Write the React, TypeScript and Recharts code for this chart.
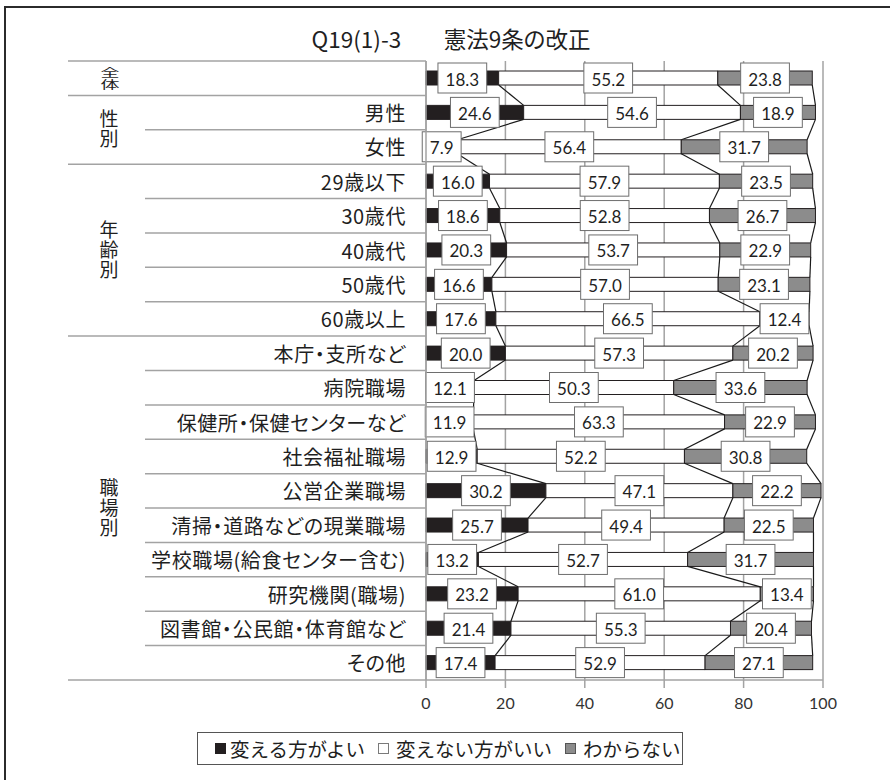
import React from 'react';
import { BarChart, Bar, XAxis, YAxis, CartesianGrid, Legend } from 'recharts';

// ---------- data ----------
const rowLabels = ['', '男性', '女性', '29歳以下', '30歳代', '40歳代', '50歳代', '60歳以上', '本庁・支所など', '病院職場', '保健所・保健センターなど', '社会福祉職場', '公営企業職場', '清掃・道路などの現業職場', '学校職場(給食センター含む)', '研究機関(職場)', '図書館・公民館・体育館など', 'その他'];
const groupLabels = ['全体', '性別', '年齢別', '職場別'];
const groupSizes = [1, 2, 5, 10];
const seriesNames = ['変える方がよい', '変えない方がいい', 'わからない'];
const betterValues = [18.3, 24.6, 7.9, 16.0, 18.6, 20.3, 16.6, 17.6, 20.0, 12.1, 11.9, 12.9, 30.2, 25.7, 13.2, 23.2, 21.4, 17.4];
const keepValues = [55.2, 54.6, 56.4, 57.9, 52.8, 53.7, 57.0, 66.5, 57.3, 50.3, 63.3, 52.2, 47.1, 49.4, 52.7, 61.0, 55.3, 52.9];
const unknownValues = [23.8, 18.9, 31.7, 23.5, 26.7, 22.9, 23.1, 12.4, 20.2, 33.6, 22.9, 30.8, 22.2, 22.5, 31.7, 13.4, 20.4, 27.1];
const xTicks = [0, 20, 40, 60, 80, 100];
const chartTitleA = 'Q19(1)-3';
const chartTitleB = '　憲法9条の改正';

const rows = rowLabels.map((name, i) => ({
  id: 'r' + i,
  name,
  better: betterValues[i],
  keep: keepValues[i],
  unknown: unknownValues[i],
}));

// ---------- layout ----------
const W = 890;
const H = 780;
const MT = 61;
const MR = 67;
const XAXIS_H = 30;
const MB = 70;
const YAXIS_W = 426;
const STEP = (H - MT - MB - XAXIS_H) / rows.length;
const BAR = 14;
const LABEL_FS = 17;

const COLORS = ['#231f20', '#ffffff', '#8c8c8c'];
const EDGE = '#231f20';
const GRID = '#a3a3a3';
const TEXT = '#1f1f1f';
const CJK = "'Noto Sans CJK JP', 'Noto Sans', sans-serif";
const NUM = "Lato, 'Noto Sans', sans-serif";

const groupStartMap: Record<number, number> = {};
{
  let s = 0;
  groupSizes.forEach((n, g) => {
    groupStartMap[s] = g;
    s += n;
  });
}

function textW(s: string) {
  let w = 0;
  for (const c of s) w += c === '.' ? 0.245 : 0.58;
  return w * LABEL_FS;
}

function CategoryTick(props: any) {
  const { y, payload } = props;
  const i: number = typeof props.index === 'number' ? props.index : payload.index;
  const axisX = YAXIS_W;
  const top = y - STEP / 2;
  const g = groupStartMap[i];
  const isGroupStart = g !== undefined;
  const els: any[] = [];
  els.push(
    <line key="sep" x1={isGroupStart ? 68 : 145} x2={axisX} y1={top} y2={top} stroke={GRID} strokeWidth={1.5} />
  );
  if (i === rows.length - 1) {
    els.push(<line key="bot" x1={68} x2={axisX} y1={y + STEP / 2} y2={y + STEP / 2} stroke={GRID} strokeWidth={1.5} />);
  }
  if (payload.value) {
    els.push(
      <text
        key="lbl"
        x={406}
        y={y}
        textAnchor="end"
        dominantBaseline="central"
        fontSize={20}
        fill={TEXT}
        style={{ fontFamily: CJK, fontFeatureSettings: '"palt"', letterSpacing: '0.6px' }}
      >
        {payload.value}
      </text>
    );
  }
  if (isGroupStart) {
    const label = groupLabels[g];
    const small = groupSizes[g] === 1;
    const center = top + (groupSizes[g] * STEP) / 2;
    const vText = (
      <text
        x={0}
        y={0}
        textAnchor="middle"
        dominantBaseline="central"
        fontSize={19}
        fill={TEXT}
        style={{ fontFamily: CJK, writingMode: 'vertical-rl', letterSpacing: small ? '0px' : '1px' }}
      >
        {label}
      </text>
    );
    els.push(
      <g key="grp" transform={small ? `translate(110, ${center}) scale(1, 0.62)` : `translate(109, ${center})`}>
        {vText}
      </g>
    );
  }
  return <g>{els}</g>;
}

function RowShape(props: any) {
  const { x, y, width, height, index, payload } = props;
  const k = width / payload.unknown;
  const left = x - k * (payload.better + payload.keep);
  const vals = [payload.better, payload.keep, payload.unknown];
  const cum = [vals[0], vals[0] + vals[1], vals[0] + vals[1] + vals[2]];
  const next = rows[index + 1];
  const els: any[] = [];
  els.push(<rect key="r" x={x} y={y} width={width} height={height} fill={COLORS[2]} stroke={EDGE} strokeWidth={1} />);
  if (next) {
    const ncum = [next.better, next.better + next.keep, next.better + next.keep + next.unknown];
    cum.forEach((c, j) => {
      els.push(
        <line key={'c' + j} x1={left + k * c} y1={y + height} x2={left + k * ncum[j]} y2={y + STEP} stroke="#1a1a1a" strokeWidth={1.2} />
      );
    });
  }
  let start = 0;
  vals.forEach((v, j) => {
    const cx = left + k * (start + v / 2);
    const cy = y + height / 2;
    const s = v.toFixed(1);
    const bw = textW(s) + 15;
    const bh = 30;
    els.push(
      <g key={'l' + j}>
        <rect x={cx - bw / 2} y={cy - bh / 2} width={bw} height={bh} fill="#ffffff" stroke="#6e6e6e" strokeWidth={1} />
        <text x={cx} y={cy + 1} textAnchor="middle" dominantBaseline="central" fontSize={LABEL_FS} fill={TEXT} style={{ fontFamily: NUM }}>
          {s}
        </text>
      </g>
    );
    start += v;
  });
  return <g>{els}</g>;
}

function LegendBox() {
  const marks = [
    { fill: COLORS[0], stroke: COLORS[0] },
    { fill: '#ffffff', stroke: '#7a7a7a' },
    { fill: COLORS[2], stroke: '#555555' },
  ];
  return (
    <div
      style={{
        boxSizing: 'border-box',
        width: 486,
        height: 33,
        border: '1px solid #555',
        background: '#fff',
        display: 'flex',
        alignItems: 'center',
        paddingLeft: 17,
        fontFamily: CJK,
        fontSize: 19.5,
        color: TEXT,
        whiteSpace: 'nowrap',
      }}
    >
      {seriesNames.map((n, i) => (
        <span key={n} style={{ display: 'flex', alignItems: 'center', marginRight: 13 }}>
          <span
            style={{
              display: 'inline-block',
              boxSizing: 'border-box',
              width: 11,
              height: 11,
              background: marks[i].fill,
              border: '1px solid ' + marks[i].stroke,
              marginRight: i === 0 ? 4 : 7,
            }}
          />
          <span style={{ lineHeight: '20px' }}>{n}</span>
        </span>
      ))}
    </div>
  );
}

export default function App() {
  return (
    <div style={{ position: 'absolute', left: 0, top: 0, width: W, height: H, overflow: 'hidden', background: '#fff' }}>
      <div
        style={{
          position: 'absolute',
          left: 4,
          top: 6,
          width: 1000,
          height: 1000,
          borderLeft: '2px solid #2b2b2b',
          borderTop: '2px solid #2b2b2b',
        }}
      />
      <div
        style={{
          position: 'absolute',
          left: 0,
          width: 902,
          top: 26,
          textAlign: 'center',
          fontFamily: CJK,
          fontSize: 22.5,
          lineHeight: '25px',
          color: TEXT,
          fontFeatureSettings: '"palt"',
          whiteSpace: 'nowrap',
        }}
      >
        <span>{chartTitleA}</span>
        <span style={{ marginLeft: 20 }}>{chartTitleB}</span>
      </div>
      <div style={{ position: 'absolute', left: 0, top: 0 }}>
        <BarChart
          width={W}
          height={H}
          data={rows}
          layout="vertical"
          margin={{ top: MT, right: MR, bottom: MB, left: 0 }}
          barSize={BAR}
        >
          <CartesianGrid horizontal={false} vertical stroke={GRID} strokeWidth={1.5} />
          <XAxis
            type="number"
            domain={[0, 100]}
            ticks={xTicks}
            interval={0}
            height={XAXIS_H}
            axisLine={{ stroke: GRID, strokeWidth: 1.5 }}
            tickLine={{ stroke: GRID, strokeWidth: 1.5 }}
            tickSize={8}
            tickMargin={10}
            tick={{ fill: '#333', fontSize: 16, fontFamily: NUM }}
          />
          <YAxis
            type="category"
            dataKey="name"
            width={YAXIS_W}
            interval={0}
            axisLine={{ stroke: GRID, strokeWidth: 1.5 }}
            tickLine={false}
            tick={<CategoryTick />}
          />
          <Bar dataKey="better" name={seriesNames[0]} stackId="s" fill={COLORS[0]} stroke={EDGE} strokeWidth={1} isAnimationActive={false} />
          <Bar dataKey="keep" name={seriesNames[1]} stackId="s" fill={COLORS[1]} stroke={EDGE} strokeWidth={1} isAnimationActive={false} />
          <Bar dataKey="unknown" name={seriesNames[2]} stackId="s" fill={COLORS[2]} stroke={EDGE} strokeWidth={1} isAnimationActive={false} shape={<RowShape />} />
          <Legend
            layout="horizontal"
            verticalAlign="middle"
            align="center"
            wrapperStyle={{ position: 'absolute', left: 197, top: 732, width: 486, height: 33 }}
            content={() => <LegendBox />}
          />
        </BarChart>
      </div>
    </div>
  );
}
